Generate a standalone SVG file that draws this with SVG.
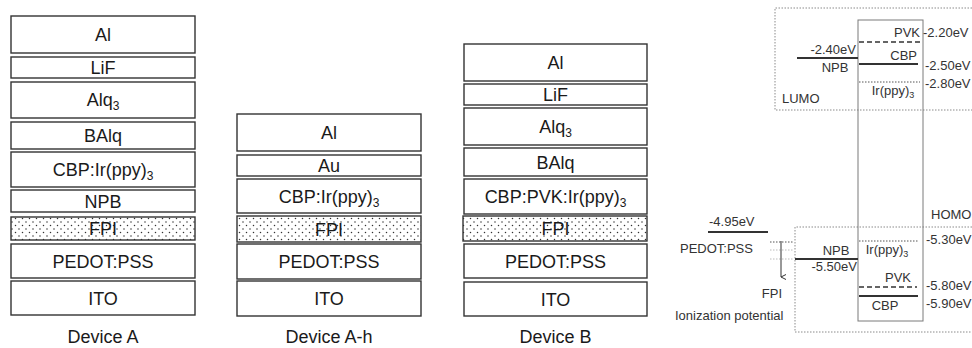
<svg xmlns="http://www.w3.org/2000/svg" width="972" height="348" viewBox="0 0 972 348">
<defs>
<pattern id="dots" width="7" height="7" patternUnits="userSpaceOnUse">
<rect width="7" height="7" fill="#fff"/>
<circle cx="1.5" cy="1.5" r="0.75" fill="#333"/>
<circle cx="5" cy="5" r="0.75" fill="#333"/>
</pattern>
<marker id="arr" markerWidth="6" markerHeight="6" refX="3" refY="5" orient="auto" markerUnits="userSpaceOnUse">
<path d="M0.5,0 L3,5 L5.5,0" fill="none" stroke="#333" stroke-width="1"/>
</marker>
<style>
.ly{fill:#fff;stroke:#333;stroke-width:1.4}
.fp{fill:url(#dots);stroke:#333;stroke-width:1.4}
.t{font-family:"Liberation Sans",Arial,sans-serif;font-size:18px;fill:#1a1a1a;text-anchor:middle}
.dl{font-family:"Liberation Sans",Arial,sans-serif;font-size:18px;fill:#1a1a1a;text-anchor:middle}
.s{font-size:12px}
.e{font-family:"Liberation Sans",Arial,sans-serif;font-size:13px;fill:#333}
.es{font-size:9px}
.dot{fill:none;stroke:#8a8a8a;stroke-width:1;stroke-dasharray:1.5 1.5}
.lv{stroke:#333;stroke-width:1.8}
.dash{stroke:#333;stroke-width:1.5;stroke-dasharray:5 3}
.fine{stroke:#555;stroke-width:1;stroke-dasharray:1.5 1.5}
</style>
</defs>

<g id="deviceA">
<rect class="ly" x="11" y="16" width="184" height="37"/><text class="t" x="103" y="41">Al</text>
<rect class="ly" x="11" y="57" width="184" height="21"/><text class="t" x="103" y="74">LiF</text>
<rect class="ly" x="11" y="82" width="184" height="36"/><text class="t" x="103" y="106">Alq<tspan class="s" dy="4">3</tspan></text>
<rect class="ly" x="11" y="122" width="184" height="27"/><text class="t" x="103" y="142">BAlq</text>
<rect class="ly" x="11" y="152" width="184" height="35"/><text class="t" x="103" y="176">CBP:Ir(ppy)<tspan class="s" dy="4">3</tspan></text>
<rect class="ly" x="11" y="190" width="184" height="22"/><text class="t" x="103" y="207.5">NPB</text>
<rect class="fp" x="11" y="217" width="184" height="23"/><text class="t" x="103" y="235">FPI</text>
<rect class="ly" x="11" y="244" width="184" height="34"/><text class="t" x="103" y="267.5">PEDOT:PSS</text>
<rect class="ly" x="11" y="281" width="184" height="34"/><text class="t" x="103" y="304.5">ITO</text>
<text class="dl" x="103" y="343">Device A</text>
</g>

<g id="deviceAh">
<rect class="ly" x="237" y="114" width="184" height="37"/><text class="t" x="329" y="139">Al</text>
<rect class="ly" x="237" y="155" width="184" height="21"/><text class="t" x="329" y="172">Au</text>
<rect class="ly" x="237" y="179" width="184" height="34"/><text class="t" x="329" y="202.5">CBP:Ir(ppy)<tspan class="s" dy="4">3</tspan></text>
<rect class="fp" x="237" y="216" width="184" height="26"/><text class="t" x="329" y="235.5">FPI</text>
<rect class="ly" x="237" y="244" width="184" height="35"/><text class="t" x="329" y="268">PEDOT:PSS</text>
<rect class="ly" x="237" y="281" width="184" height="35"/><text class="t" x="329" y="305">ITO</text>
<text class="dl" x="329" y="343">Device A-h</text>
</g>

<g id="deviceB">
<rect class="ly" x="464" y="44" width="183" height="37"/><text class="t" x="555.5" y="69">Al</text>
<rect class="ly" x="464" y="84" width="183" height="21"/><text class="t" x="555.5" y="101">LiF</text>
<rect class="ly" x="464" y="108" width="183" height="37"/><text class="t" x="555.5" y="133">Alq<tspan class="s" dy="4">3</tspan></text>
<rect class="ly" x="464" y="148" width="183" height="28"/><text class="t" x="555.5" y="168.5">BAlq</text>
<rect class="ly" x="464" y="179" width="183" height="35"/><text class="t" x="555.5" y="203">CBP:PVK:Ir(ppy)<tspan class="s" dy="4">3</tspan></text>
<rect class="fp" x="463" y="216" width="184" height="25"/><text class="t" x="555.5" y="235">FPI</text>
<rect class="ly" x="464" y="244" width="183" height="34"/><text class="t" x="555.5" y="267.5">PEDOT:PSS</text>
<rect class="ly" x="464" y="282" width="183" height="34"/><text class="t" x="555.5" y="305.5">ITO</text>
<text class="dl" x="555.5" y="343">Device B</text>
</g>

<g id="energy">
<path class="dot" d="M975,8 H775 V110 H975"/>
<path class="dot" d="M975,227 H795 V332 H975"/>
<rect x="858" y="20" width="65" height="301" fill="none" stroke="#7a7a7a" stroke-width="1"/>
<text class="e" x="782" y="103">LUMO</text>
<text class="e" x="931" y="219">HOMO</text>

<line class="dash" x1="859" y1="42" x2="920" y2="42"/>
<text class="e" x="920" y="37" text-anchor="end">PVK</text>
<text class="e" x="923" y="37">-2.20eV</text>
<line class="lv" x1="797" y1="58" x2="858" y2="58"/>
<text class="e" x="856" y="54" text-anchor="end">-2.40eV</text>
<text class="e" x="835" y="72" text-anchor="middle">NPB</text>
<line class="lv" x1="859" y1="64" x2="918" y2="64"/>
<text class="e" x="917" y="60" text-anchor="end">CBP</text>
<text class="e" x="925" y="70">-2.50eV</text>
<line class="fine" x1="859" y1="82" x2="920" y2="82"/>
<text class="e" x="925" y="88">-2.80eV</text>
<text class="e" x="893" y="95" text-anchor="middle">Ir(ppy)<tspan class="es" dy="3">3</tspan></text>

<text class="e" x="709" y="226">-4.95eV</text>
<line class="lv" x1="708" y1="232" x2="768" y2="232"/>
<line x1="770" y1="242" x2="793" y2="242" stroke="#555" stroke-width="1" stroke-dasharray="1.5 1.5"/>
<line x1="770" y1="250" x2="793" y2="250" stroke="#bbb" stroke-width="1" stroke-dasharray="1.5 1.5"/>
<line x1="770" y1="259" x2="793" y2="259" stroke="#bbb" stroke-width="1" stroke-dasharray="1.5 1.5"/>
<text class="e" x="680" y="253">PEDOT:PSS</text>
<line x1="781" y1="241" x2="781" y2="277" stroke="#333" stroke-width="1" marker-end="url(#arr)"/>
<text class="e" x="782" y="298" text-anchor="end">FPI</text>
<text class="e" x="675" y="320">Ionization potential</text>

<line class="lv" x1="795" y1="259" x2="858" y2="259"/>
<text class="e" x="836" y="255" text-anchor="middle">NPB</text>
<text class="e" x="857" y="271" text-anchor="end">-5.50eV</text>
<line class="fine" x1="859" y1="241" x2="918" y2="241"/>
<text class="e" x="926" y="244">-5.30eV</text>
<text class="e" x="887" y="254" text-anchor="middle">Ir(ppy)<tspan class="es" dy="3">3</tspan></text>
<text class="e" x="898" y="282" text-anchor="middle">PVK</text>
<line class="dash" x1="859" y1="287" x2="917" y2="287"/>
<text class="e" x="926" y="290">-5.80eV</text>
<line class="lv" x1="859" y1="296" x2="918" y2="296"/>
<text class="e" x="885" y="310" text-anchor="middle">CBP</text>
<text class="e" x="926" y="308">-5.90eV</text>
</g>
</svg>
